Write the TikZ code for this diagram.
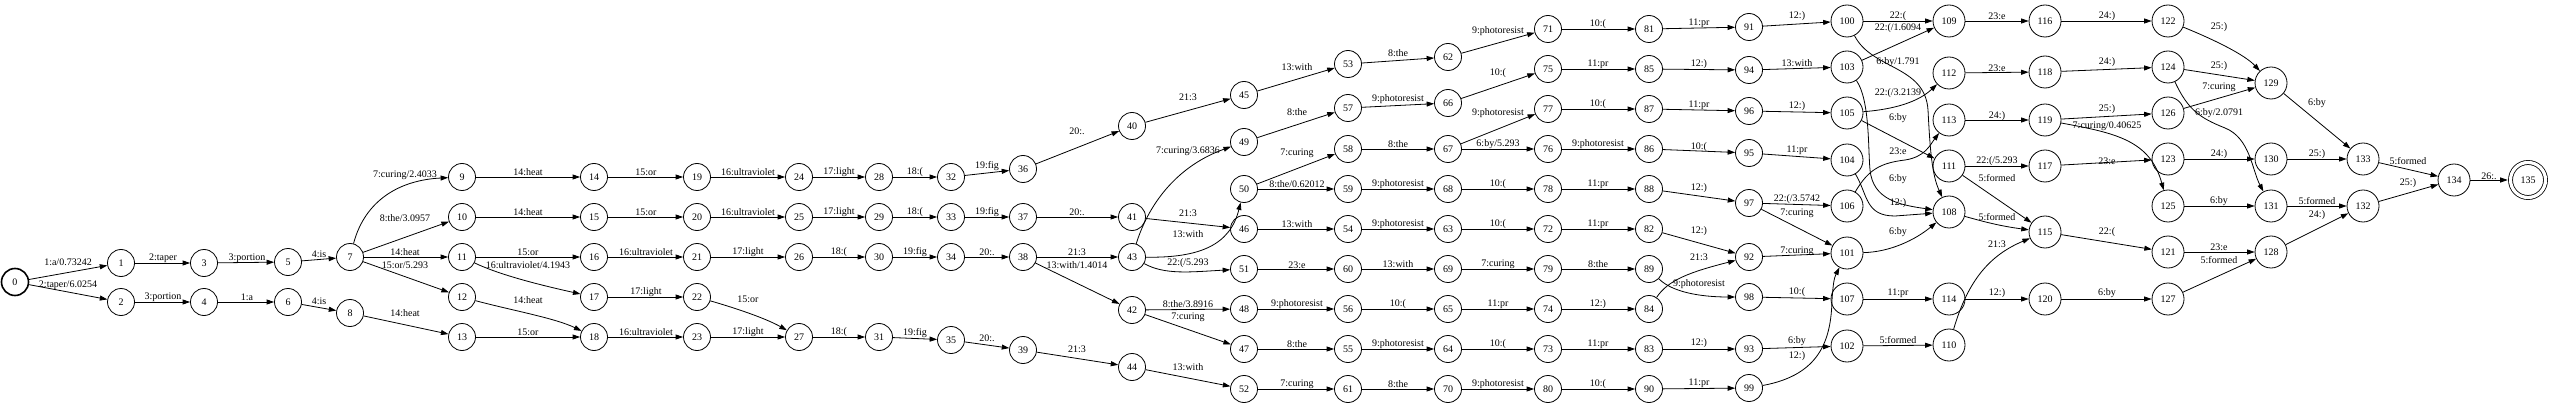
\documentclass[tikz,border=0pt]{standalone}
\usepackage{fontspec}
\setmainfont{Liberation Serif}
\usetikzlibrary{arrows.meta}
\tikzset{
 stt/.style={circle,draw,line width=0.8pt,minimum size=27pt,inner sep=0pt,font=\fontsize{10}{12}\selectfont},
 stw/.style={stt,minimum size=32pt},
 ed/.style={line width=0.8pt,-{Triangle[length=7.5pt,width=5pt]}},
 lbl/.style={inner sep=0pt,font=\fontsize{10}{12}\selectfont},
}
\newcommand\mkn[3]{\node[stt] (n#1) at (#2,#3) {#1};}
\newcommand\mkw[3]{\node[stw] (n#1) at (#2,#3) {#1};}
\newcommand\edg[4]{\draw[ed] (n#1) -- (n#2) node[lbl] at (#3) {#4};}
\newcommand\cedg[5]{\draw[ed] (n#1) #3 (n#2) node[lbl] at (#4) {#5};}
\begin{document}
\begin{tikzpicture}[x=1pt,y=-1pt]
\fill[white] (0,0) rectangle (2550,406);
\useasboundingbox (0,0) rectangle (2550,406);
% nodes
\node[stt,line width=1.6pt] (n0) at (15,282) {0};
\mkn{1}{121}{263}\mkn{2}{121}{302}
\mkn{3}{204}{263}\mkn{4}{204}{302}
\mkn{5}{288}{262}\mkn{6}{288}{302}
\mkn{7}{350}{257}\mkn{8}{350}{313}
\mkn{9}{462}{177}\mkn{10}{462}{217}\mkn{11}{462}{257}\mkn{12}{462}{297}\mkn{13}{462}{337}
\mkn{14}{594}{177}\mkn{15}{594}{217}\mkn{16}{594}{257}\mkn{17}{594}{297}\mkn{18}{594}{337}
\mkn{19}{697}{177}\mkn{20}{697}{217}\mkn{21}{697}{257}\mkn{22}{697}{297}\mkn{23}{697}{337}
\mkn{24}{799}{177}\mkn{25}{799}{217}\mkn{26}{799}{257}\mkn{27}{799}{337}
\mkn{28}{879}{177}\mkn{29}{879}{217}\mkn{30}{879}{257}\mkn{31}{879}{337}
\mkn{32}{951}{177}\mkn{33}{951}{217}\mkn{34}{951}{257}\mkn{35}{951}{340}
\mkn{36}{1023}{169}\mkn{37}{1023}{217}\mkn{38}{1023}{257}\mkn{39}{1023}{350}
\mkn{40}{1132}{126}\mkn{41}{1132}{217}\mkn{43}{1132}{257}\mkn{42}{1132}{310}\mkn{44}{1132}{367}
\mkn{45}{1244}{95}\mkn{49}{1244}{142}\mkn{50}{1244}{189}\mkn{46}{1244}{229}\mkn{51}{1244}{269}\mkn{48}{1244}{309}\mkn{47}{1244}{349}\mkn{52}{1244}{389}
\mkn{53}{1348}{64}\mkn{57}{1348}{108}\mkn{58}{1348}{149}\mkn{59}{1348}{189}\mkn{54}{1348}{229}\mkn{60}{1348}{269}\mkn{56}{1348}{309}\mkn{55}{1348}{349}\mkn{61}{1348}{389}
\mkn{62}{1448}{57}\mkn{66}{1448}{103}\mkn{67}{1448}{149}\mkn{68}{1448}{189}\mkn{63}{1448}{229}\mkn{69}{1448}{269}\mkn{65}{1448}{309}\mkn{64}{1448}{349}\mkn{70}{1448}{389}
\mkn{71}{1548}{29}\mkn{75}{1548}{69}\mkn{77}{1548}{109}\mkn{76}{1548}{149}\mkn{78}{1548}{189}\mkn{72}{1548}{229}\mkn{79}{1548}{269}\mkn{74}{1548}{309}\mkn{73}{1548}{349}\mkn{80}{1548}{389}
\mkn{81}{1649}{29}\mkn{85}{1649}{69}\mkn{87}{1649}{109}\mkn{86}{1649}{149}\mkn{88}{1649}{189}\mkn{82}{1649}{229}\mkn{89}{1649}{269}\mkn{84}{1649}{309}\mkn{83}{1649}{349}\mkn{90}{1649}{389}
\mkn{91}{1749}{27}\mkn{94}{1749}{70}\mkn{96}{1749}{111}\mkn{95}{1749}{153}\mkn{97}{1749}{203}\mkn{92}{1749}{257}\mkn{98}{1749}{297}\mkn{93}{1749}{349}\mkn{99}{1749}{388}
\mkw{100}{1847}{21}\mkw{103}{1847}{67}\mkw{105}{1847}{113}\mkw{104}{1847}{160}\mkw{106}{1847}{206}\mkw{101}{1847}{253}\mkw{107}{1847}{299}\mkw{102}{1847}{346}
\mkw{109}{1949}{21}\mkw{112}{1949}{73}\mkw{113}{1949}{120}\mkw{111}{1949}{166}\mkw{108}{1949}{212}\mkw{114}{1949}{299}\mkw{110}{1949}{345}
\mkw{116}{2045}{21}\mkw{118}{2045}{72}\mkw{119}{2045}{120}\mkw{117}{2045}{166}\mkw{115}{2045}{232}\mkw{120}{2045}{299}
\mkw{122}{2168}{21}\mkw{124}{2168}{67}\mkw{126}{2168}{113}\mkw{123}{2168}{159}\mkw{125}{2168}{206}\mkw{121}{2168}{252}\mkw{127}{2168}{299}
\mkw{129}{2271}{83}\mkw{130}{2271}{159}\mkw{131}{2271}{206}\mkw{128}{2271}{252}
\mkw{133}{2363}{159}\mkw{132}{2363}{206}
\mkw{134}{2454}{180}
\node[stt,double,double distance=3.2pt,minimum size=35pt] (n135) at (2528,180) {135};
% edges
\edg{0}{1}{68,262}{1:a/0.73242}
\edg{0}{2}{68,285}{2:taper/6.0254}
\edg{1}{3}{163,258}{2:taper}
\edg{3}{5}{247,258}{3:portion}
\edg{2}{4}{163,297}{3:portion}
\edg{4}{6}{247,297}{1:a}
\edg{5}{7}{319,254}{4:is}
\edg{6}{8}{319,301}{4:is}
\cedg{7}{9}{.. controls (365,200) and (400,180) ..}{405,175}{7:curing/2.4033}
\edg{7}{10}{405,218}{8:the/3.0957}
\edg{7}{11}{405,252}{14:heat}
\edg{7}{12}{405,265}{15:or/5.293}
\edg{8}{13}{405,313}{14:heat}
\edg{9}{14}{528,172}{14:heat}
\edg{10}{15}{528,212}{14:heat}
\edg{11}{16}{528,252}{15:or}
\cedg{11}{17}{.. controls (500,275) and (540,285) ..}{528,265}{16:ultraviolet/4.1943}
\cedg{12}{18}{.. controls (510,310) and (555,318) ..}{528,300}{14:heat}
\edg{13}{18}{528,332}{15:or}
\edg{14}{19}{646,172}{15:or}
\edg{15}{20}{646,212}{15:or}
\edg{16}{21}{646,252}{16:ultraviolet}
\edg{17}{22}{646,292}{17:light}
\edg{18}{23}{646,332}{16:ultraviolet}
\edg{19}{24}{748,172}{16:ultraviolet}
\edg{20}{25}{748,212}{16:ultraviolet}
\edg{21}{26}{748,252}{17:light}
\cedg{22}{27}{.. controls (735,308) and (765,318) ..}{748,299}{15:or}
\edg{23}{27}{748,332}{17:light}
\edg{24}{28}{839,172}{17:light}
\edg{25}{29}{839,212}{17:light}
\edg{26}{30}{839,252}{18:(}
\edg{27}{31}{839,332}{18:(}
\edg{28}{32}{915,172}{18:(}
\edg{29}{33}{915,212}{18:(}
\edg{30}{34}{915,252}{19:fig}
\edg{31}{35}{915,333}{19:fig}
\edg{32}{36}{987,166}{19:fig}
\edg{33}{37}{987,212}{19:fig}
\edg{34}{38}{987,252}{20:.}
\edg{35}{39}{987,338}{20:.}
\edg{36}{40}{1077,131}{20:.}
\edg{37}{41}{1077,212}{20:.}
\edg{38}{43}{1077,252}{21:3}
\edg{38}{42}{1077,265}{13:with/1.4014}
\edg{39}{44}{1077,349}{21:3}
\edg{40}{45}{1188,97}{21:3}
\cedg{43}{49}{.. controls (1150,200) and (1180,165) ..}{1188,151}{7:curing/3.6836}
\edg{41}{46}{1188,213}{21:3}
\cedg{43}{50}{.. controls (1200,258) and (1230,245) ..}{1188,234}{13:with}
\cedg{43}{51}{.. controls (1165,275) and (1190,272) ..}{1188,263}{22:(/5.293}
\edg{42}{48}{1188,304}{8:the/3.8916}
\edg{42}{47}{1188,317}{7:curing}
\edg{44}{52}{1188,367}{13:with}
\edg{45}{53}{1297,67}{13:with}
\edg{49}{57}{1297,112}{8:the}
\edg{50}{58}{1297,153}{7:curing}
\edg{50}{59}{1297,184}{8:the/0.62012}
\edg{46}{54}{1297,224}{13:with}
\edg{51}{60}{1297,265}{23:e}
\edg{48}{56}{1297,304}{9:photoresist}
\edg{47}{55}{1297,344}{8:the}
\edg{52}{61}{1297,384}{7:curing}
\edg{53}{62}{1398,53}{8:the}
\edg{57}{66}{1398,99}{9:photoresist}
\edg{58}{67}{1398,144}{8:the}
\edg{59}{68}{1398,184}{9:photoresist}
\edg{54}{63}{1398,224}{9:photoresist}
\edg{60}{69}{1398,264}{13:with}
\edg{56}{65}{1398,304}{10:(}
\edg{55}{64}{1398,344}{9:photoresist}
\edg{61}{70}{1398,384}{8:the}
\edg{62}{71}{1498,31}{9:photoresist}
\edg{66}{75}{1498,73}{10:(}
\edg{67}{77}{1498,113}{9:photoresist}
\edg{67}{76}{1498,144}{6:by/5.293}
\edg{68}{78}{1498,184}{10:(}
\edg{63}{72}{1498,224}{10:(}
\edg{69}{79}{1498,264}{7:curing}
\edg{65}{74}{1498,304}{11:pr}
\edg{64}{73}{1498,344}{10:(}
\edg{70}{80}{1498,384}{9:photoresist}
\edg{71}{81}{1598,24}{10:(}
\edg{75}{85}{1598,64}{11:pr}
\edg{77}{87}{1598,104}{10:(}
\edg{76}{86}{1598,144}{9:photoresist}
\edg{78}{88}{1598,184}{11:pr}
\edg{72}{82}{1598,224}{11:pr}
\edg{79}{89}{1598,264}{8:the}
\edg{74}{84}{1598,304}{12:)}
\edg{73}{83}{1598,344}{11:pr}
\edg{80}{90}{1598,384}{10:(}
\edg{81}{91}{1699,23}{11:pr}
\edg{85}{94}{1699,64}{12:)}
\edg{87}{96}{1699,105}{11:pr}
\edg{86}{95}{1699,147}{10:(}
\edg{88}{97}{1699,188}{12:)}
\edg{82}{92}{1699,231}{12:)}
\cedg{84}{92}{.. controls (1668,280) and (1690,272) ..}{1699,257}{21:3}
\cedg{89}{98}{.. controls (1672,292) and (1700,297) ..}{1699,284}{9:photoresist}
\edg{83}{93}{1699,343}{12:)}
\edg{90}{99}{1699,383}{11:pr}
\edg{91}{100}{1797,16}{12:)}
\edg{94}{103}{1797,63}{13:with}
\edg{96}{105}{1797,106}{12:)}
\edg{95}{104}{1797,150}{11:pr}
\edg{97}{106}{1797,199}{22:(/3.5742}
\edg{97}{101}{1797,213}{7:curing}
\edg{92}{101}{1797,251}{7:curing}
\edg{98}{107}{1797,292}{10:(}
\edg{93}{102}{1797,341}{6:by}
\cedg{99}{101}{.. controls (1820,375) and (1831,340) .. (1832,300) .. controls (1833,285) and (1834,278) ..}{1797,356}{12:)}
\edg{100}{109}{1898,16}{22:(}
\edg{103}{109}{1898,28}{22:(/1.6094}
\cedg{100}{108}{.. controls (1872,70) and (1925,65) .. (1928,110) .. controls (1930,150) and (1932,175) ..}{1898,62}{6:by/1.791}
\cedg{105}{112}{.. controls (1885,110) and (1915,105) ..}{1898,93}{22:(/3.2139}
\edg{105}{111}{1898,118}{6:by}
\cedg{106}{113}{.. controls (1868,170) and (1880,163) .. (1905,160) .. controls (1925,157) and (1930,145) ..}{1898,151}{23:e}
\cedg{103}{108}{.. controls (1870,100) and (1868,150) .. (1870,170) .. controls (1873,200) and (1900,205) ..}{1898,179}{6:by}
\cedg{104}{108}{.. controls (1868,195) and (1865,216) .. (1895,216) --}{1898,203}{12:)}
\cedg{101}{108}{.. controls (1890,252) and (1915,240) ..}{1898,232}{6:by}
\edg{107}{114}{1898,293}{11:pr}
\edg{102}{110}{1898,340}{5:formed}
\edg{109}{116}{1997,16}{23:e}
\edg{112}{118}{1997,68}{23:e}
\edg{113}{119}{1997,116}{24:)}
\edg{111}{117}{1997,161}{22:(/5.293}
\edg{111}{115}{1997,178}{5:formed}
\cedg{108}{115}{.. controls (1985,222) and (2000,226) ..}{1997,217}{5:formed}
\cedg{110}{115}{.. controls (1968,280) and (1990,255) ..}{1997,244}{21:3}
\edg{114}{120}{1997,293}{12:)}
\edg{116}{122}{2107,16}{24:)}
\edg{118}{124}{2107,62}{24:)}
\edg{119}{126}{2107,109}{25:)}
\cedg{119}{125}{.. controls (2115,133) and (2150,140) ..}{2107,126}{7:curing/0.40625}
\edg{117}{123}{2107,161}{23:e}
\edg{115}{121}{2107,232}{22:(}
\edg{120}{127}{2107,293}{6:by}
\cedg{122}{129}{.. controls (2215,40) and (2245,55) ..}{2219,27}{25:)}
\edg{124}{129}{2219,66}{25:)}
\edg{126}{129}{2219,87}{7:curing}
\cedg{124}{131}{.. controls (2188,110) and (2200,118) .. (2225,128) .. controls (2250,138) and (2252,170) ..}{2219,113}{6:by/2.0791}
\edg{123}{130}{2219,154}{24:)}
\edg{125}{131}{2219,201}{6:by}
\edg{121}{128}{2219,247}{23:e}
\edg{127}{128}{2219,260}{5:formed}
\edg{129}{133}{2317,103}{6:by}
\edg{130}{133}{2317,154}{25:)}
\edg{131}{132}{2317,201}{5:formed}
\edg{128}{132}{2317,215}{24:)}
\edg{133}{134}{2408,161}{5:formed}
\edg{132}{134}{2408,183}{25:)}
\draw[ed,shorten >=2.4pt] (n134) -- (n135) node[lbl] at (2489,176) {26:.};
\end{tikzpicture}
\end{document}
